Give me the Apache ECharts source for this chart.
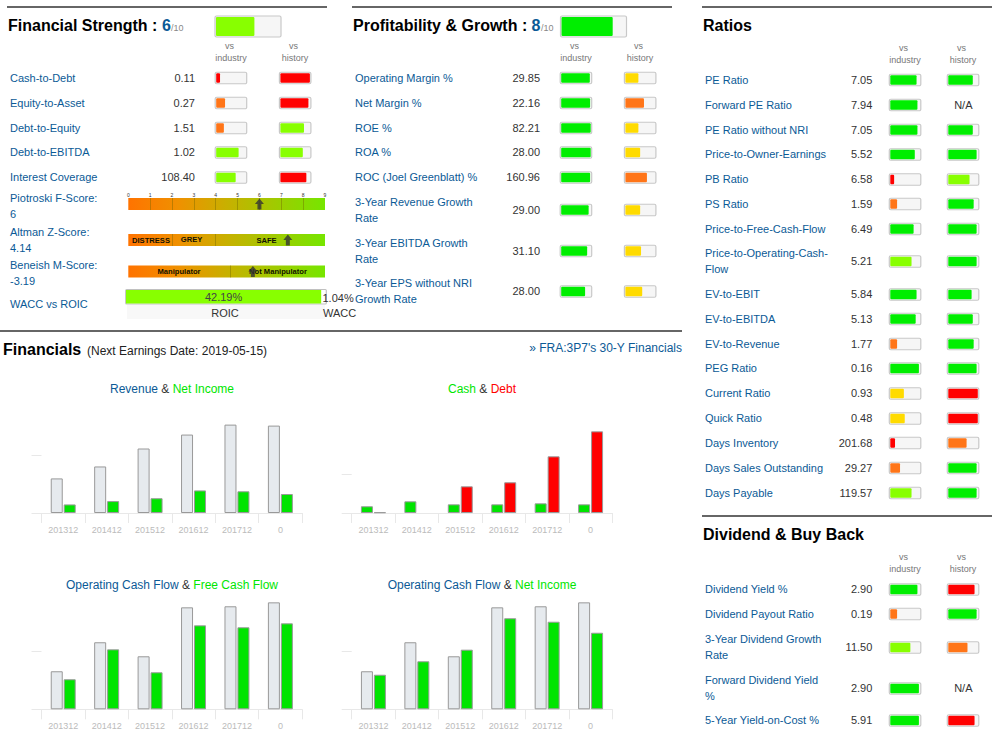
<!DOCTYPE html>
<html>
<head>
<meta charset="utf-8">
<style>
  html, body { margin: 0; padding: 0; background: #fff; }
  #main { width: 992px; height: 737px; }
</style>
<script src="https://cdn.jsdelivr.net/npm/echarts@6/dist/echarts.min.js"></script>
</head>
<body>
<div id="main"></div>
<script>
/* ---------- data: rating tables ---------- */
// levels: r red, o orange, y yellow, l lime, g green
var strengthScore = 6;
var strengthLabels = ['Cash-to-Debt', 'Equity-to-Asset', 'Debt-to-Equity', 'Debt-to-EBITDA', 'Interest Coverage'];
var strengthValues = ['0.11', '0.27', '1.51', '1.02', '108.40'];
var strengthIndustry = [13, 30, 26, 76, 66];
var strengthIndustryLevel = ['r', 'o', 'o', 'l', 'l'];
var strengthHistory = [100, 95, 80, 76, 88];
var strengthHistoryLevel = ['r', 'r', 'l', 'l', 'r'];

var profitScore = 8;
var profitLabels = ['Operating Margin %', 'Net Margin %', 'ROE %', 'ROA %', 'ROC (Joel Greenblatt) %',
  '3-Year Revenue Growth\nRate', '3-Year EBITDA Growth\nRate', '3-Year EPS without NRI\nGrowth Rate'];
var profitValues = ['29.85', '22.16', '82.21', '28.00', '160.96', '29.00', '31.10', '28.00'];
var profitIndustry = [97, 98, 100, 100, 98, 93, 88, 81];
var profitIndustryLevel = ['g', 'g', 'g', 'g', 'g', 'g', 'g', 'g'];
var profitHistory = [44, 63, 44, 50, 73, 50, 53, 57];
var profitHistoryLevel = ['y', 'o', 'y', 'y', 'o', 'y', 'y', 'y'];

var ratioLabels = ['PE Ratio', 'Forward PE Ratio', 'PE Ratio without NRI', 'Price-to-Owner-Earnings', 'PB Ratio', 'PS Ratio',
  'Price-to-Free-Cash-Flow', 'Price-to-Operating-Cash-\nFlow', 'EV-to-EBIT', 'EV-to-EBITDA', 'EV-to-Revenue', 'PEG Ratio',
  'Current Ratio', 'Quick Ratio', 'Days Inventory', 'Days Sales Outstanding', 'Days Payable'];
var ratioValues = ['7.05', '7.94', '7.05', '5.52', '6.58', '1.59', '6.49', '5.21', '5.84', '5.13', '1.77', '0.16',
  '0.93', '0.48', '201.68', '29.27', '119.57'];
var ratioIndustry = [89, 92, 92, 83, 13, 23, 79, 72, 89, 86, 23, 97, 46, 49, 16, 33, 72];
var ratioIndustryLevel = ['g', 'g', 'g', 'g', 'r', 'o', 'g', 'l', 'g', 'g', 'o', 'g', 'y', 'y', 'r', 'o', 'l'];
var ratioHistory = [83, null, 83, 96, 72, 86, 96, 96, 79, 83, 86, 96, 100, 100, 62, 96, 96];
var ratioHistoryLevel = ['g', null, 'g', 'g', 'l', 'g', 'g', 'g', 'g', 'g', 'g', 'g', 'r', 'r', 'o', 'g', 'g'];

var dividendLabels = ['Dividend Yield %', 'Dividend Payout Ratio', '3-Year Dividend Growth\nRate', 'Forward Dividend Yield\n%', '5-Year Yield-on-Cost %'];
var dividendValues = ['2.90', '0.19', '11.50', '2.90', '5.91'];
var dividendIndustry = [92, 23, 68, 97, 97];
var dividendIndustryLevel = ['g', 'o', 'l', 'g', 'g'];
var dividendHistory = [89, 96, 65, null, 89];
var dividendHistoryLevel = ['r', 'g', 'o', null, 'r'];

/* ---------- data: score bars ---------- */
var piotroskiTicks = [1, 2, 3, 4, 5, 6, 7, 8];
var piotroskiArrow = 6;
var altmanMarks = [2, 4];
var altmanArrow = 7.3;
var beneishMarks = [4.65];
var beneishArrow = 5.7;
var roicValue = 42.19;
var waccValue = 1.04;

/* ---------- data: financials ---------- */
var periods = ['201312', '201412', '201512', '201612', '201712', '0'];
var revenue = [1203, 1619, 2243, 2728, 3074, 3040];
var netIncome = [298, 414, 514, 785, 755, 660];
var cash = [87, 151, 112, 112, 125, 112];
var debt = [9, null, 345, 397, 733, 1056];
var operatingCashFlow = [328, 578, 457, 879, 888, 922];
var freeCashFlow = [259, 517, 319, 724, 707, 741];

/* ---------- styles ---------- */
var FONT = '"Liberation Sans", Arial, sans-serif';
var BLUE = '#0b5a96';
var INK = '#333333';
var LIME = '#88ff00';
var GREEN_BAR = '#00e400';
var levelColors = { r: '#ff0000', o: '#ff7518', y: '#ffdb00', l: '#88ff00', g: '#00ee00' };

var grids = [], xAxes = [], yAxes = [], series = [], graphics = [];

function text(x, y, str, size, color, opts) {
  opts = opts || {};
  graphics.push({
    type: 'text', x: x, y: y, z: opts.z || 5, silent: true,
    style: {
      text: str,
      fontFamily: FONT,
      fontSize: size,
      fontWeight: opts.bold ? 'bold' : 'normal',
      fill: color,
      lineHeight: opts.lineHeight || 16,
      textAlign: opts.align || 'left',
      textVerticalAlign: 'middle'
    }
  });
}

function rule(x1, x2, y) {
  graphics.push({ type: 'rect', silent: true, shape: { x: x1, y: y - 1, width: x2 - x1, height: 2 }, style: { fill: '#666666' } });
}

// small horizontal rating bar, one grid each
function gauge(x, yc, w, h, pct, color) {
  graphics.push({
    type: 'rect', z: 0, silent: true,
    shape: { x: x, y: yc - h / 2, width: w, height: h, r: 1.5 },
    style: { fill: '#f6f6f6', stroke: '#c8c8c8', lineWidth: 1.2 }
  });
  var i = grids.length;
  grids.push({ left: x + 1, top: yc - h / 2 + 1, width: w - 2, height: h - 2 });
  xAxes.push({ gridIndex: i, type: 'value', min: 0, max: 100, show: false });
  yAxes.push({ gridIndex: i, type: 'category', data: ['v'], show: false });
  series.push({
    type: 'bar', xAxisIndex: i, yAxisIndex: i, data: [pct], barWidth: '100%', silent: true,
    animation: false,
    itemStyle: { color: color, borderRadius: 1 }
  });
}

function table(labels, values, industry, industryLevel, history, historyLevel, rows, pos) {
  for (var i = 0; i < labels.length; i++) {
    var y = rows[i];
    text(pos.label, y, labels[i], 11, BLUE);
    text(pos.value, y, values[i], 11, INK, { align: 'right' });
    gauge(pos.industry, y + 0.5, 31.5, 11.5, industry[i], levelColors[industryLevel[i]]);
    if (history[i] === null) {
      text(pos.history + 16, y, 'N/A', 11, INK, { align: 'center' });
    } else {
      gauge(pos.history, y + 0.5, 31.5, 11.5, history[i], levelColors[historyLevel[i]]);
    }
  }
}

function vsHeader(xIndustry, xHistory, y) {
  text(xIndustry, y, 'vs', 9, '#777777', { align: 'center' });
  text(xIndustry + 1.5, y + 12, 'industry', 9, '#777777', { align: 'center' });
  text(xHistory, y, 'vs', 9, '#777777', { align: 'center' });
  text(xHistory + 1.5, y + 12, 'history', 9, '#777777', { align: 'center' });
}

// gradient strip on a 0..9 scale with marks and an arrow
function scoreBar(top, marks, arrow, showLabels) {
  var i = grids.length;
  grids.push({ left: 128.3, top: top, width: 196.7, height: 12 });
  xAxes.push({
    gridIndex: i, type: 'value', min: 0, max: 9, interval: 1, position: 'top',
    axisLine: { show: false }, axisTick: { show: false }, splitLine: { show: false },
    axisLabel: { show: showLabels, fontSize: 5, color: '#333', margin: 1, fontFamily: FONT }
  });
  yAxes.push({ gridIndex: i, type: 'category', data: ['v'], show: false });
  series.push({
    type: 'bar', xAxisIndex: i, yAxisIndex: i, data: [9], barWidth: '100%', silent: true, animation: false,
    itemStyle: {
      color: new echarts.graphic.LinearGradient(0, 0, 1, 0, [
        { offset: 0, color: '#ff7300' }, { offset: 0.25, color: '#f09000' },
        { offset: 0.5, color: '#c8b000' }, { offset: 1, color: '#76e600' }
      ])
    },
    markLine: {
      silent: true, symbol: 'none', animation: false, label: { show: false },
      lineStyle: { color: 'rgba(110,100,0,0.4)', width: 1, type: 'solid' },
      data: marks.map(function (m) { return { xAxis: m }; })
    }
  });
  series.push({
    type: 'scatter', xAxisIndex: i, yAxisIndex: i, data: [[arrow, 'v']], silent: true, animation: false, z: 20,
    symbol: 'path://M5 0 L10 5.5 L7.2 5.5 L7.2 11 L2.8 11 L2.8 5.5 L0 5.5 Z', symbolSize: [9, 11],
    itemStyle: { color: '#333333' }
  });
}

function barPanel(left, top, height, max, tick, dataA, colorA, dataB, colorB) {
  var i = grids.length;
  grids.push({ left: left, top: top, width: 260.6, height: height });
  xAxes.push({
    gridIndex: i, type: 'category', data: periods,
    axisLine: { lineStyle: { color: '#e8e8e8', width: 1 } },
    axisTick: { show: true, length: 10, lineStyle: { color: '#e8e8e8' } },
    axisLabel: { interval: 0, fontSize: 9, color: '#bbbbbb', margin: 12, fontFamily: FONT }
  });
  yAxes.push({
    gridIndex: i, type: 'value', min: 0, max: max,
    axisLine: { show: false }, splitLine: { show: false },
    axisTick: { show: true, length: 10, customValues: [0, tick], lineStyle: { color: '#e8e8e8' } },
    axisLabel: { show: false }
  });
  [[dataA, colorA], [dataB, colorB]].forEach(function (s) {
    series.push({
      type: 'bar', xAxisIndex: i, yAxisIndex: i, data: s[0], barWidth: 12, barGap: '8%', silent: true, animation: false,
      itemStyle: { color: s[1], borderColor: '#999999', borderWidth: 1 }
    });
  });
}

function panelTitle(cx, y, a, colorA, b, colorB) {
  graphics.push({
    type: 'text', x: cx, y: y, z: 5, silent: true,
    style: {
      text: '{a|' + a + '} {o|&} {b|' + b + '}',
      fontFamily: FONT, fontSize: 12, fill: '#333333',
      textAlign: 'center', textVerticalAlign: 'middle',
      rich: {
        a: { fill: colorA, fontSize: 12, fontFamily: FONT },
        o: { fill: '#333333', fontSize: 12, fontFamily: FONT },
        b: { fill: colorB, fontSize: 12, fontFamily: FONT }
      }
    }
  });
}

/* ---------- section rules and headings ---------- */
rule(7, 327, 7);
rule(352, 672, 7);
rule(702, 992, 7);
rule(0, 682, 331);
rule(702, 992, 516);

text(8, 25.5, 'Financial Strength :', 16, '#000000', { bold: true });
text(162, 25.5, String(strengthScore), 16, BLUE, { bold: true });
text(171, 27.5, '/10', 9, '#888888');
gauge(215, 26.5, 66, 21, strengthScore * 10, levelColors.l);

text(353, 25.5, 'Profitability & Growth :', 16, '#000000', { bold: true });
text(531.5, 25.5, String(profitScore), 16, BLUE, { bold: true });
text(541, 27.5, '/10', 9, '#888888');
gauge(560.5, 26.5, 66, 21, profitScore * 10, levelColors.g);

text(703, 25.5, 'Ratios', 16, '#000000', { bold: true });
text(703, 534.5, 'Dividend & Buy Back', 16, '#000000', { bold: true });

vsHeader(229.5, 293.5, 46);
vsHeader(574.5, 638.5, 46);
vsHeader(903.5, 961.5, 48);
vsHeader(903.5, 961.5, 557);

/* ---------- tables ---------- */
table(strengthLabels, strengthValues, strengthIndustry, strengthIndustryLevel, strengthHistory, strengthHistoryLevel,
  [77.5, 102.5, 127.5, 152, 177], { label: 10, value: 195, industry: 215.2, history: 279.4 });
table(profitLabels, profitValues, profitIndustry, profitIndustryLevel, profitHistory, profitHistoryLevel,
  [77.5, 102.5, 127.5, 152, 177, 209.5, 250.5, 291], { label: 355, value: 540, industry: 560.2, history: 624.4 });
table(ratioLabels, ratioValues, ratioIndustry, ratioIndustryLevel, ratioHistory, ratioHistoryLevel,
  [79.5, 104.5, 129.5, 154, 179, 203.5, 228.5, 261, 294, 318.5, 343.5, 368, 393, 418, 442.5, 467.5, 492.5],
  { label: 705, value: 872.3, industry: 889.3, history: 947.3 });
table(dividendLabels, dividendValues, dividendIndustry, dividendIndustryLevel, dividendHistory, dividendHistoryLevel,
  [589, 613.5, 647, 688, 720], { label: 705, value: 872.3, industry: 889.3, history: 947.3 });

/* ---------- score rows ---------- */
text(10, 206, 'Piotroski F-Score:\n6', 11, BLUE);
text(10, 240, 'Altman Z-Score:\n4.14', 11, BLUE);
text(10, 273, 'Beneish M-Score:\n-3.19', 11, BLUE);
text(10, 304, 'WACC vs ROIC', 11, BLUE);

scoreBar(198, piotroskiTicks, piotroskiArrow, true);
scoreBar(234, altmanMarks, altmanArrow, false);
scoreBar(265.5, beneishMarks, beneishArrow, false);

text(151, 240, 'DISTRESS', 7.6, '#111100', { bold: true, align: 'center' });
text(191.5, 239.5, 'GREY', 7.6, '#111100', { bold: true, align: 'center' });
text(266.5, 240, 'SAFE', 7.6, '#111100', { bold: true, align: 'center' });
text(179, 271.5, 'Manipulator', 7.6, '#111100', { bold: true, align: 'center' });
text(278, 271.5, 'Not Manipulator', 7.6, '#111100', { bold: true, align: 'center' });

/* ---------- WACC vs ROIC ---------- */
graphics.push({
  type: 'rect', z: 0, silent: true, shape: { x: 125.7, y: 289.5, width: 200.6, height: 14.5, r: 1 },
  style: { fill: '#ffffff', stroke: '#c0c0c0', lineWidth: 1.2 }
});
graphics.push({ type: 'rect', z: 0, silent: true, shape: { x: 127, y: 305, width: 198, height: 14 }, style: { fill: '#f8f8f8' } });
(function () {
  var i = grids.length;
  grids.push({ left: 126, top: 290, width: 200, height: 13.5 });
  xAxes.push({ gridIndex: i, type: 'value', min: 0, max: roicValue + waccValue, show: false });
  yAxes.push({ gridIndex: i, type: 'category', data: ['v'], show: false });
  series.push({
    type: 'bar', xAxisIndex: i, yAxisIndex: i, data: [roicValue], barWidth: '100%', silent: true, animation: false,
    itemStyle: { color: LIME },
    label: { show: true, position: 'inside', formatter: roicValue.toFixed(2) + '%', fontSize: 11, color: '#444444', fontFamily: FONT }
  });
})();
text(322.5, 298, waccValue.toFixed(2) + '%', 11, INK);
text(225, 313, 'ROIC', 11, INK, { align: 'center' });
text(339.5, 313, 'WACC', 11, INK, { align: 'center' });

/* ---------- financials ---------- */
text(3, 349, 'Financials', 16, '#000000', { bold: true });
text(87, 350.5, '(Next Earnings Date: 2019-05-15)', 12, '#222222');
text(682, 348, '\u00bb FRA:3P7\'s 30-Y Financials', 12, BLUE, { align: 'right' });

panelTitle(172, 388.5, 'Revenue', BLUE, 'Net Income', '#00e600');
panelTitle(482, 388.5, 'Cash', '#00e600', 'Debt', '#ff0000');
panelTitle(172, 584.5, 'Operating Cash Flow', BLUE, 'Free Cash Flow', '#00e600');
panelTitle(482, 584.5, 'Operating Cash Flow', BLUE, 'Net Income', '#00e600');

barPanel(41.5, 398, 115, 4000, 2000, revenue, '#e6eaee', netIncome, GREEN_BAR);
barPanel(351.7, 397, 116, 1500, 500, cash, GREEN_BAR, debt, '#ff0000');
barPanel(41.5, 593.3, 116, 1000, 500, operatingCashFlow, '#e6eaee', freeCashFlow, GREEN_BAR);
barPanel(351.7, 593.3, 116, 1000, 500, operatingCashFlow, '#e6eaee', netIncome, GREEN_BAR);

var chart = echarts.init(document.getElementById('main'), null, { renderer: 'svg' });
chart.setOption({
  animation: false,
  backgroundColor: '#ffffff',
  grid: grids,
  xAxis: xAxes,
  yAxis: yAxes,
  series: series,
  graphic: graphics
});
window.addEventListener('resize', function () { chart.resize(); });
</script>
</body>
</html>
